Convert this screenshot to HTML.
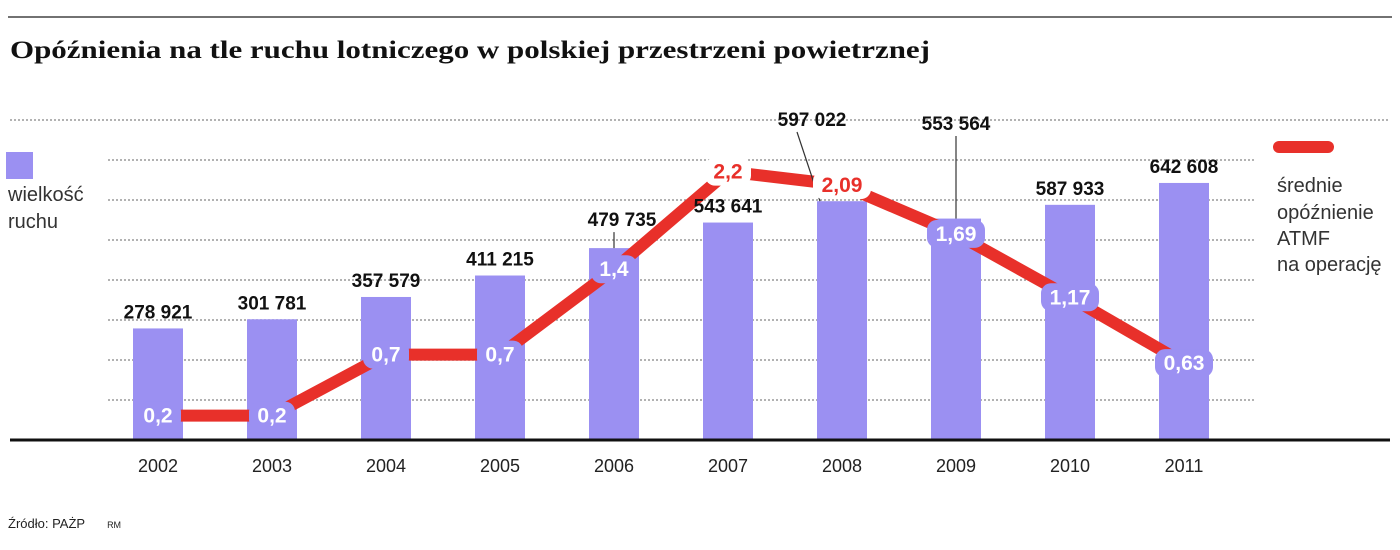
<!DOCTYPE html>
<html><head><meta charset="utf-8"><style>
html,body{margin:0;padding:0;background:#fff;}
body{width:1400px;height:545px;overflow:hidden;position:relative;font-family:"Liberation Sans","DejaVu Sans",sans-serif;}
</style></head><body>
<svg id="chart" width="1400" height="545" viewBox="0 0 1400 545" xmlns="http://www.w3.org/2000/svg">
<line x1="8" y1="17" x2="1392" y2="17" stroke="#444" stroke-width="1.5"/>
<text x="10" y="58" font-family="Liberation Serif, serif" font-weight="bold" font-size="25" fill="#111" textLength="920" lengthAdjust="spacingAndGlyphs">Opóźnienia na tle ruchu lotniczego w polskiej przestrzeni powietrznej</text>
<g id="grid"></g>
<g id="bars"></g>
<line x1="10" y1="440" x2="1390" y2="440" stroke="#111" stroke-width="3"/>
<g id="line"></g>
<g id="labels"></g>
<rect x="6" y="152" width="27" height="27" fill="#9b90f2"/>
<text font-size="20" fill="#333"><tspan x="8" y="201">wielkość</tspan><tspan x="8" y="228">ruchu</tspan></text>
<line x1="1279" y1="147" x2="1328" y2="147" stroke="#e8302a" stroke-width="12" stroke-linecap="round"/>
<text font-size="20" fill="#333"><tspan x="1277" y="192">średnie</tspan><tspan x="1277" y="219">opóźnienie</tspan><tspan x="1277" y="245">ATMF</tspan><tspan x="1277" y="271">na operację</tspan></text>
<text x="8" y="528" font-size="13" fill="#222">Źródło: PAŻP<tspan dx="22" font-size="9">RM</tspan></text>
</svg>
<script>
const years = ["2002","2003","2004","2005","2006","2007","2008","2009","2010","2011"];
const traffic = [278921,301781,357579,411215,479735,543641,597022,553564,587933,642608];
const trafficLabels = ["278 921","301 781","357 579","411 215","479 735","543 641","597 022","553 564","587 933","642 608"];
const delay = [0.2,0.2,0.7,0.7,1.4,2.2,2.09,1.69,1.17,0.63];
const delayLabels = ["0,2","0,2","0,7","0,7","1,4","2,2","2,09","1,69","1,17","0,63"];
const gridValues = [100000,200000,300000,400000,500000,600000,700000,800000];

const NS="http://www.w3.org/2000/svg";
const xC = i => 158 + i*114;
const yB = v => 440 - v*0.0004;
const yL = v => 440 - v*122;
function mk(tag, attrs, parent){const e=document.createElementNS(NS,tag);for(const k in attrs)e.setAttribute(k,attrs[k]);parent.appendChild(e);return e;}
const G=document.getElementById('grid'),B=document.getElementById('bars'),L=document.getElementById('line'),T=document.getElementById('labels');
gridValues.forEach((g,i)=>{
  const y=yB(g);
  const el=mk('line',{x1: i===gridValues.length-1?10:108, y1:y, x2: i===gridValues.length-1?1390:1256, y2:y, stroke:'#999','stroke-width':1.5,'stroke-dasharray':'2 2'},G);
  
  
});
traffic.forEach((v,i)=>{
  const r=mk('rect',{x:xC(i)-25,y:yB(v),width:50,height:440-yB(v),fill:'#9b90f2'},B);
  
  
  const yr=mk('text',{x:xC(i),y:472,'text-anchor':'middle','font-size':18,fill:'#222'},T);
  yr.textContent=years[i];
  
  
  let ly=yB(v)-10, lx=xC(i);
  if(i===4){ly=yB(v)-22;lx=xC(i)+8;}
  if(i===6){ly=126;lx=xC(i)-30;}
  if(i===7){ly=130;}
  const t=mk('text',{x:lx,y:ly,'text-anchor':'middle','font-size':19,'font-weight':'bold',fill:'#111'},T);
  t.textContent=trafficLabels[i];
  
  
  if(i===4||i===6||i===7){
    const lead=mk('line',{x1:i===6?xC(i)-45:xC(i),y1:ly+6,x2:i===6?xC(i)-22:xC(i),y2:yB(v),stroke:'#333','stroke-width':1.2},T);
    
    
  }
});
const pts=delay.map((v,i)=>xC(i)+','+yL(v)).join(' ');
const pl=mk('polyline',{points:pts,fill:'none',stroke:'#e8302a','stroke-width':12,'stroke-linejoin':'round'},L);


delay.forEach((v,i)=>{
  const onBar = yL(v) > yB(traffic[i])+8;
  const w = delayLabels[i].length*12+10;
  const bg=mk('rect',{x:xC(i)-w/2,y:yL(v)-14,width:w,height:28,rx:10,fill:onBar?'#9b90f2':'#fff'},T);
  
  
  const t=mk('text',{x:xC(i),y:yL(v)+7,'text-anchor':'middle','font-size':21,'font-weight':'bold',fill:onBar?'#fff':'#e8302a'},T);
  t.textContent=delayLabels[i];
  
  
});
</script>
</body></html>
